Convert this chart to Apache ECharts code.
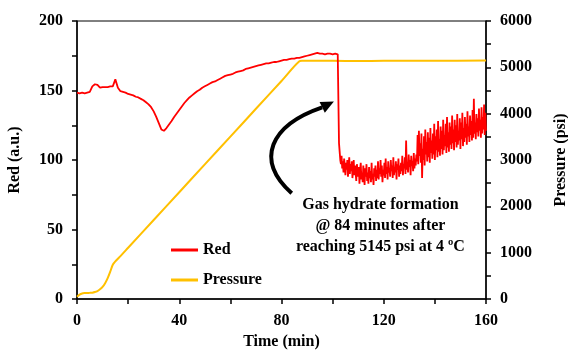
<!DOCTYPE html>
<html>
<head>
<meta charset="utf-8">
<script src="https://cdn.jsdelivr.net/npm/echarts@6/dist/echarts.min.js"></script>
<style>html,body{margin:0;padding:0;background:#fff}#c{width:568px;height:350px}</style>
</head>
<body>
<div id="c"></div>
<script>
// ---- data ----
// Red (a.u.), smooth part: t = 0..102 min, step 1
var redSmoothStart = 0, redSmoothStep = 1;
var redSmooth = [148.5,148,148.5,148,148.5,149,153,154.5,154,152,152.5,152.5,152.5,153,153,158,152,149.5,149,148.5,
147.5,147,146.5,145.5,145,144,143,141.5,140,138,135,131,126.5,122,121,123,125.5,128,131,133.5,
136,138.5,141,143,145,146.5,148,149.5,150.5,152,153,154,155,156,156.5,157.5,158.5,159.5,160.5,161,
161.5,162,163,163.5,164,164.5,165.5,166,166.5,167,167.5,168,168.5,169,169.5,169.5,170,170.5,170.5,171,
171.5,172,172,172.5,173,173,173.5,173.5,174,174.5,175,175.5,176,176.5,177,176.5,176.5,176,176.5,176.5,
176,176.5,176];
// Red (a.u.), noisy part after hydrate formation: t = 102.5..160 min, step 0.25
var redNoisyStart = 102.5, redNoisyStep = 0.25;
var redNoisy = [
112,106,100,97,103,94,99,91,101,96,89,98,93,100,88,95,102,90,97,92,
99,87,94,100,89,96,91,85,97,92,88,95,83,93,98,86,91,84,96,89,
82,94,88,97,85,91,83,95,87,92,84,98,86,90,82,94,88,96,85,93,
87,99,86,94,90,100,88,96,84,93,89,98,87,101,90,95,86,99,91,94,
88,100,92,96,87,102,89,95,91,99,86,97,93,101,88,96,90,98,92,103,
89,97,94,102,90,114,93,98,91,104,95,100,89,103,96,99,92,105,94,101,
96,104,99,118,97,121,103,112,98,119,87,108,100,117,96,122,104,113,99,120,
102,116,98,123,105,114,101,119,104,126,100,117,107,122,102,128,106,115,103,124,
108,121,104,129,107,118,110,126,105,131,109,120,106,127,111,124,108,132,112,122,
107,129,113,125,109,133,111,121,114,130,108,127,115,134,110,123,113,131,116,126,
111,135,117,124,113,132,118,128,114,136,116,144,119,127,115,133,120,130,117,137,
121,129,116,138,119,131,122,140,118,134,121];
// Pressure (psi)
var pressureTime = [0,1,2,3,4,5,6,7,8,9,10,11,12,13,14,15,16,17,20,30,40,50,60,70,80,87,88,100,110,120,140,160];
var pressureValue = [50,95,120,128,130,133,137,150,172,209,260,340,450,590,740,810,870,925,1105,1705,2305,2905,3505,4105,4705,5130,5140,5140,5135,5140,5140,5145];
var seriesNames = ['Red','Pressure'];
var annotationLines = ['Gas hydrate formation','@ 84 minutes after','reaching 5145 psi at 4 ºC'];

// ---- build ----
var redData = [];
redSmooth.forEach(function(v,i){ redData.push([redSmoothStart + i*redSmoothStep, v]); });
redNoisy.forEach(function(v,i){ redData.push([redNoisyStart + i*redNoisyStep, v]); });
var presData = pressureTime.map(function(t,i){ return [t, pressureValue[i]]; });

var FONT = '"Liberation Serif","Times New Roman",serif';
function lbl(){ return {color:'#000', fontFamily:FONT, fontWeight:'bold', fontSize:16, margin:14, formatter:function(v){return String(v);}}; }
var nameStyle = {color:'#000', fontFamily:FONT, fontWeight:'bold', fontSize:16};
var axLine = {show:true, lineStyle:{color:'#000', width:1.5}};

var chart = echarts.init(document.getElementById('c'));
chart.setOption({
  animation:false,
  backgroundColor:'#fff',
  grid:{left:77, right:82, top:21, bottom:51, outerBoundsMode:'none', containLabel:false,
        show:true, borderColor:'#000', borderWidth:1, backgroundColor:'transparent'},
  legend:{
    orient:'vertical', left:166, top:237, itemGap:14, icon:'rect', itemWidth:27, itemHeight:3,
    textStyle:{color:'#000', fontFamily:FONT, fontWeight:'bold', fontSize:16},
    data:seriesNames
  },
  xAxis:{
    type:'value', min:0, max:160, interval:40,
    name:'Time (min)', nameLocation:'middle', nameGap:33, nameTextStyle:nameStyle,
    axisLine:axLine, axisTick:{show:true, inside:false, length:5, lineStyle:{color:'#000', width:1.5}},
    minorTick:{show:true, splitNumber:2, length:5, lineStyle:{color:'#000', width:1.5}},
    axisLabel:lbl(), splitLine:{show:false}
  },
  yAxis:[{
    type:'value', min:0, max:200, interval:50, position:'left',
    name:'Red (a.u.)', nameLocation:'middle', nameGap:54, nameRotate:90, nameTextStyle:nameStyle,
    axisLine:axLine, axisTick:{show:true, length:5, lineStyle:{color:'#000', width:1.5}},
    minorTick:{show:true, splitNumber:2, length:5, lineStyle:{color:'#000', width:1.5}},
    axisLabel:lbl(), splitLine:{show:false}
  },{
    type:'value', min:0, max:6000, interval:1000, position:'right',
    name:'Pressure (psi)', nameLocation:'middle', nameGap:67, nameRotate:90, nameTextStyle:nameStyle,
    axisLine:axLine, axisTick:{show:true, length:5, lineStyle:{color:'#000', width:1.5}},
    minorTick:{show:true, splitNumber:2, length:5, lineStyle:{color:'#000', width:1.5}},
    axisLabel:lbl(), splitLine:{show:false}
  }],
  series:[{
    name:seriesNames[0], type:'line', yAxisIndex:0, data:redData, symbol:'none',
    lineStyle:{color:'#FF0000', width:1.8}, itemStyle:{color:'#FF0000'}, z:3
  },{
    name:seriesNames[1], type:'line', yAxisIndex:1, data:presData, symbol:'none', smooth:0.3,
    lineStyle:{color:'#FFC000', width:2}, itemStyle:{color:'#FFC000'}, z:2
  }]
});

// annotation (arrow + text), anchored in data coordinates
function px(t, v){ return chart.convertToPixel({xAxisIndex:0, yAxisIndex:0}, [t, v]); }
var p0 = px(84, 76), c1 = px(69.5, 100), c2 = px(75.5, 125), p1 = px(96, 138), tip = px(100.5, 142);
var ang = Math.atan2(tip[1]-p1[1], tip[0]-p1[0]);
var L = 13, W = 6;
var bx = tip[0] - L*Math.cos(ang), by = tip[1] - L*Math.sin(ang);
var head = [[tip[0],tip[1]],[bx + W*Math.sin(ang), by - W*Math.cos(ang)],[bx - W*Math.sin(ang), by + W*Math.cos(ang)]];
var tc = px(118.7, 75.5);
chart.setOption({
  graphic:[{
    type:'bezierCurve', shape:{x1:p0[0], y1:p0[1], cpx1:c1[0], cpy1:c1[1], cpx2:c2[0], cpy2:c2[1], x2:bx, y2:by},
    style:{stroke:'#000', lineWidth:4, fill:null}, z:10
  },{
    type:'polygon', shape:{points:head}, style:{fill:'#000'}, z:10
  },{
    type:'text', x:tc[0], y:tc[1],
    style:{text:annotationLines.join('\n'), fill:'#000', font:'bold 16px ' + FONT, align:'center', verticalAlign:'top', lineHeight:21},
    z:10
  }]
});
</script>
</body>
</html>
